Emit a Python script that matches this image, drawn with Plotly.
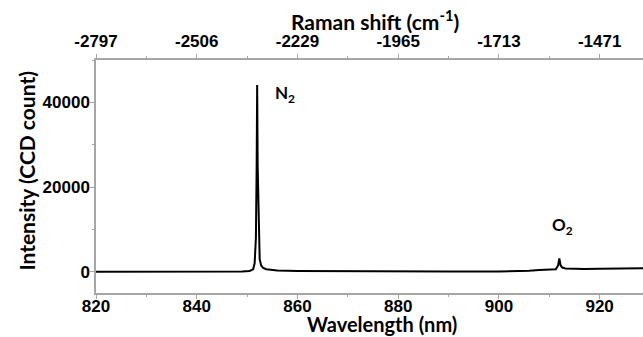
import plotly.graph_objects as go

# Data
wavelength = [820, 830, 840, 846, 849, 850.5, 851.2, 851.5, 851.75, 851.9, 852.0, 852.1,
              852.3, 852.5, 852.8, 853.2, 853.8, 854.8, 856, 860, 870, 880, 890, 900,
              904, 906, 908, 910, 911.3, 911.75, 912.0, 912.25, 912.6, 913.2, 914.5,
              917, 920, 924, 927, 929]
intensity = [0, 0, 30, 60, 100, 200, 600, 2000, 8000, 25000, 44100, 25000,
             8000, 3000, 1500, 900, 600, 400, 300, 200, 120, 80, 60, 60,
             100, 250, 400, 480, 600, 1500, 3150, 1500, 1000, 800, 700,
             680, 700, 760, 800, 820]

bottom_ticks = [820, 840, 860, 880, 900, 920]
bottom_labels = ["820", "840", "860", "880", "900", "920"]
top_labels = ["-2797", "-2506", "-2229", "-1965", "-1713", "-1471"]
minor_ticks = [830, 850, 870, 890, 910]
y_ticks = [0, 20000, 40000]

W, H = 643, 337
L, R, T, B = 95.6, 643, 60, 292.7
xr = [820, 820 + (R - L) / 5.04]

tickfont = dict(family="Liberation Sans, Arial, sans-serif", size=17, color="black",
                weight="bold")
titlefont = dict(family="Lato, Carlito, Calibri, sans-serif", size=21, color="black",
                 weight="bold")
btitlefont = dict(titlefont, size=20)
labfont = dict(family="Lato, sans-serif", size=17, color="black", weight="bold")
axcol = "#a6a6a6"

fig = go.Figure()
fig.add_trace(go.Scatter(x=wavelength, y=intensity, mode="lines",
                         line=dict(color="black", width=2), showlegend=False,
                         hoverinfo="skip"))
fig.add_trace(go.Scatter(x=[wavelength[0]], y=[intensity[0]], xaxis="x2", mode="markers",
                         marker=dict(opacity=0), showlegend=False, hoverinfo="skip"))

common_x = dict(range=xr, showgrid=False, zeroline=False, showline=True, linecolor=axcol,
                linewidth=1.5, ticks="outside", ticklen=4, tickwidth=1.2, tickcolor=axcol,
                tickfont=tickfont, tickvals=bottom_ticks,
                minor=dict(tickvals=minor_ticks, ticks="outside", ticklen=2,
                           tickcolor=axcol, tickwidth=1.2))

fig.update_layout(
    width=W, height=H,
    margin=dict(l=L, r=W - R, t=T, b=H - B, pad=0),
    paper_bgcolor="white", plot_bgcolor="white",
    xaxis=dict(**common_x, ticktext=bottom_labels, side="bottom", ticklabelstandoff=-7),
    xaxis2=dict(**common_x, ticktext=top_labels, side="top", overlaying="x",
                anchor="y", ticklabelstandoff=0),
    yaxis=dict(range=[-5000, 50000], showgrid=False, zeroline=False, showline=True,
               linecolor=axcol, linewidth=1.5, ticks="outside", ticklen=4,
               tickwidth=1.2, tickcolor=axcol, tickfont=tickfont, tickvals=y_ticks,
               ticktext=[str(v) for v in y_ticks], ticklabelstandoff=-3,
               minor=dict(dtick=10000, ticks="outside", ticklen=2, tickcolor=axcol,
                          tickwidth=1.2)),
    annotations=[
        dict(text="Raman shift (cm<sup>-1</sup>)", xref="paper", yref="paper",
             x=(375 - L) / (R - L), y=1 + (T - 20) / (B - T),
             xanchor="center", yanchor="middle", showarrow=False, font=titlefont),
        dict(text="Wavelength (nm)", xref="paper", yref="paper",
             x=(382 - L) / (R - L), y=-(324 - B) / (B - T),
             xanchor="center", yanchor="middle", showarrow=False, font=btitlefont),
        dict(text="Intensity (CCD count)", xref="paper", yref="paper",
             x=-(L - 26) / (R - L), y=(B - 170) / (B - T), textangle=-90,
             xanchor="center", yanchor="middle", showarrow=False, font=titlefont),
        dict(text="N<sub>2</sub>", x=857.6, y=42000, xref="x", yref="y",
             showarrow=False, font=labfont),
        dict(text="O<sub>2</sub>", x=912.7, y=10700, xref="x", yref="y",
             showarrow=False, font=labfont),
    ],
)

fig.write_html("out.html")
